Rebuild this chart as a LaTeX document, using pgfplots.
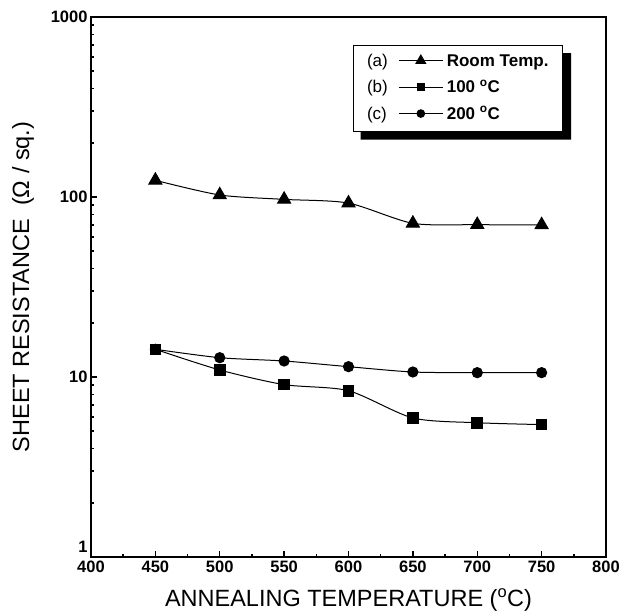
\documentclass[border=0pt]{standalone}
\usepackage{fontspec}
\setmainfont{Liberation Sans}
\usepackage{pgfplots}
\pgfplotsset{compat=1.18}
\begin{document}
\begin{tikzpicture}
\begin{axis}[
  name=ax,
  scale only axis,
  width=515pt, height=540pt,
  xmin=400, xmax=800,
  ymode=log, ymin=1, ymax=1000,
  xtick={400,450,...,800},
  minor x tick num=1,
  ytick={1,10,100,1000},
  yticklabels={\raisebox{4pt}[0pt][0pt]{1},10,100,1000},
  tick pos=left,
  tick align=inside,
  major tick length=6pt,
  minor tick length=3.5pt,
  axis line style={line width=2pt},
  every tick/.style={black, line width=1.5pt},
  /pgf/number format/assume math mode=true,
  /pgf/number format/set thousands separator={},
  tick label style={font=\fontsize{16.5}{18}\selectfont\bfseries},
  xlabel={ANNEALING TEMPERATURE (\textsuperscript{o}C)},
  ylabel={SHEET RESISTANCE\ \ (Ω / sq.)},
  label style={font=\fontsize{23.5}{26}\selectfont},
  xlabel style={at={(axis description cs:0.5,-0.08)}, anchor=center},
  ylabel style={at={(axis description cs:-0.132,0.5)}, anchor=center},
  legend columns=2,
  legend plot pos=right,
  legend style={name=leg, at={(0.9165,0.948)}, anchor=north east, draw=black, line width=1pt,
    fill=white, font=\fontsize{17}{20}\selectfont,
    column sep=0pt, row sep=11pt, inner xsep=14pt, inner ysep=8.5pt,
    nodes={inner sep=0pt, text height=12pt, text depth=3.5pt, anchor=base west}},
]
\addplot[black, line width=1pt, smooth, tension=0.45, mark=triangle*, mark size=7.5pt, forget plot]
  coordinates {
  (450,123.8) (500,102.6) (550,97.0) (600,92.5) (650,71.4) (700,70.2) (750,70.0)
};
\addplot[black, line width=1pt, smooth, tension=0.45, mark=square*, mark size=5.3pt, forget plot]
  coordinates {
  (450,14.25) (500,10.94) (550,9.07) (600,8.39) (650,5.92) (700,5.57) (750,5.44)
};
\addplot[black, line width=1pt, smooth, tension=0.45, mark=*, mark size=5.1pt, forget plot]
  coordinates {
  (450,14.25) (500,12.8) (550,12.27) (600,11.41) (650,10.66) (700,10.57) (750,10.57)
};
% legend: "(x)" | line+mark | name | (empty)
\addlegendimage{legend image code/.code={
    \path[draw=none, fill=none] (0pt,0pt) -- (59pt,0pt);
    \draw[black, line width=1pt] (11pt,5.5pt) -- (55pt,5.5pt);
    \begin{scope}[shift={(33pt,5.5pt)}]\pgfsetplotmarksize{5.5pt}\pgfuseplotmark{triangle*}\end{scope}}}
\addlegendentry{(a)}
\addlegendimage{legend image code/.code={}}
\addlegendentry{\bfseries Room Temp.}
\addlegendimage{legend image code/.code={
    \path[draw=none, fill=none] (0pt,0pt) -- (59pt,0pt);
    \draw[black, line width=1pt] (11pt,5.5pt) -- (55pt,5.5pt);
    \begin{scope}[shift={(33pt,5.5pt)}]\pgfsetplotmarksize{3.5pt}\pgfuseplotmark{square*}\end{scope}}}
\addlegendentry{(b)}
\addlegendimage{legend image code/.code={}}
\addlegendentry{\bfseries 100 \textsuperscript{o}C}
\addlegendimage{legend image code/.code={
    \path[draw=none, fill=none] (0pt,0pt) -- (59pt,0pt);
    \draw[black, line width=1pt] (11pt,5.5pt) -- (55pt,5.5pt);
    \begin{scope}[shift={(33pt,5.5pt)}]\pgfsetplotmarksize{3.8pt}\pgfuseplotmark{*}\end{scope}}}
\addlegendentry{(c)}
\addlegendimage{legend image code/.code={}}
\addlegendentry{\bfseries 200 \textsuperscript{o}C}
\end{axis}
% legend drop shadow (L-shaped strip behind/below the legend box)
\fill[black] ([xshift=8pt]leg.south west) -- ++(0pt,-8pt)
  -- ([xshift=8pt,yshift=-8pt]leg.south east) -- ([xshift=8pt,yshift=-8pt]leg.north east)
  -- ([yshift=-8pt]leg.north east) -- (leg.south east) -- cycle;
\pgfresetboundingbox
\path ([xshift=-91pt,yshift=-59pt]ax.south west) rectangle ([xshift=15pt,yshift=17pt]ax.north east);
\end{tikzpicture}
\end{document}
